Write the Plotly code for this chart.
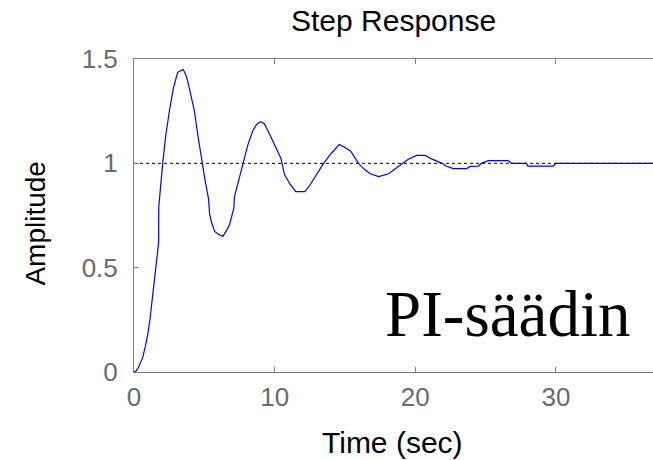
import plotly.graph_objects as go

# Step response data
time_s = [0, 0.15, 0.3, 0.45, 0.62, 0.8, 0.98, 1.15, 1.33, 1.45, 1.6, 1.75, 1.76, 2.04, 2.25,
          2.52, 2.8, 3.1, 3.2, 3.5, 3.65, 3.81, 4.05, 4.29, 4.55, 4.83, 5.05, 5.3, 5.37,
          5.5, 5.73, 6.0, 6.32, 6.55, 6.79, 7.1, 7.14, 7.45, 7.74, 8.1, 8.45, 8.7, 8.99,
          9.27, 9.6, 9.98, 10.45, 10.69, 11.1, 11.5, 12.15, 12.5, 12.81, 13.48, 14.0,
          14.3, 14.59, 14.94, 15.41, 15.96, 16.4, 16.8, 17.4, 18.1, 18.6, 19.05, 19.5,
          20.1, 20.7, 21.2, 21.9, 22.2, 22.7, 23.65, 23.9, 24.5, 24.7, 25.2, 26.6, 26.85,
          27.9, 28.0, 29.8, 30.0, 36.9]
amplitude = [0, 0.005, 0.02, 0.04, 0.07, 0.12, 0.18, 0.26, 0.357, 0.43, 0.53, 0.62, 0.79, 1.0, 1.13,
             1.253, 1.36, 1.435, 1.44, 1.45, 1.43, 1.396, 1.33, 1.253, 1.13, 1.0, 0.92, 0.83, 0.76,
             0.72, 0.674, 0.66, 0.65, 0.675, 0.706, 0.785, 0.84, 0.92, 1.0, 1.09, 1.157, 1.185, 1.2,
             1.19, 1.145, 1.087, 1.023, 0.947, 0.9, 0.864, 0.864, 0.895, 0.928, 1.0, 1.046,
             1.07, 1.09, 1.078, 1.058, 1.0, 0.97, 0.95, 0.936, 0.95, 0.975, 1.0, 1.02,
             1.038, 1.038, 1.02, 1.0, 0.987, 0.975, 0.975, 0.985, 0.987, 1.0, 1.013, 1.013, 1.0,
             1.0, 0.987, 0.987, 1.0, 1.0]

ref_x = [0, 36.9]
ref_y = [1, 1]

x_ticks = [0, 10, 20, 30]
x_ticktext = ["0", "10", "20", "30"]
y_ticks = [0, 0.5, 1, 1.5]
y_ticktext = ["0", "0.5", "1", "1.5"]

title_text = "Step Response"
xlabel_text = "Time (sec)"
ylabel_text = "Amplitude"
note_text = "PI-säädin"

fig = go.Figure()
fig.add_trace(go.Scatter(x=ref_x, y=ref_y, mode="lines",
                         line=dict(color="black", width=1, dash="dot"),
                         hoverinfo="skip", showlegend=False))
fig.add_trace(go.Scatter(x=time_s, y=amplitude, mode="lines",
                         line=dict(color="#0000ff", width=1.2),
                         showlegend=False))

W, H = 653, 460
L, R, T, B = 133.5, 0, 59, 88

def px(xp):
    return (xp - L) / (W - L - R)

def py(yp):
    return (H - B - yp) / (H - B - T)

fig.update_layout(
    width=W, height=H,
    margin=dict(l=L, r=R, t=T, b=B, pad=0),
    paper_bgcolor="white", plot_bgcolor="white",
    font=dict(family="Liberation Sans, Arial", size=26, color="#6b6b6b"),
    xaxis=dict(range=[0, 36.9], tickvals=x_ticks, ticktext=x_ticktext,
               ticks="inside", ticklen=5, tickcolor="#808080", tickwidth=1,
               showline=True, linecolor="#808080", linewidth=1, mirror="ticks",
               showgrid=False, zeroline=False, ticklabelstandoff=2,
               tickfont=dict(size=26, color="#6b6b6b")),
    yaxis=dict(range=[0, 1.5], tickvals=y_ticks, ticktext=y_ticktext,
               ticks="inside", ticklen=5, tickcolor="#808080", tickwidth=1,
               showline=True, linecolor="#808080", linewidth=1, mirror=False,
               showgrid=False, zeroline=False, ticklabelstandoff=10,
               tickfont=dict(size=26, color="#6b6b6b")),
    annotations=[
        dict(text=title_text, xref="paper", yref="paper", x=px(393.7), y=py(21),
             xanchor="center", yanchor="middle", showarrow=False,
             font=dict(family="Liberation Sans, Arial", size=30, color="black")),
        dict(text=xlabel_text, xref="paper", yref="paper", x=px(392.5), y=py(442),
             xanchor="center", yanchor="middle", showarrow=False,
             font=dict(family="Liberation Sans, Arial", size=30, color="black")),
        dict(text=ylabel_text, xref="paper", yref="paper", x=px(35), y=py(223),
             xanchor="center", yanchor="middle", showarrow=False, textangle=-90,
             font=dict(family="Liberation Sans, Arial", size=28, color="black")),
        dict(text=note_text, xref="paper", yref="paper", x=px(507.5), y=py(313.5),
             xanchor="center", yanchor="middle", showarrow=False,
             font=dict(family="Liberation Serif, Times New Roman", size=65, color="black")),
    ],
)

fig.write_html("out.html")
